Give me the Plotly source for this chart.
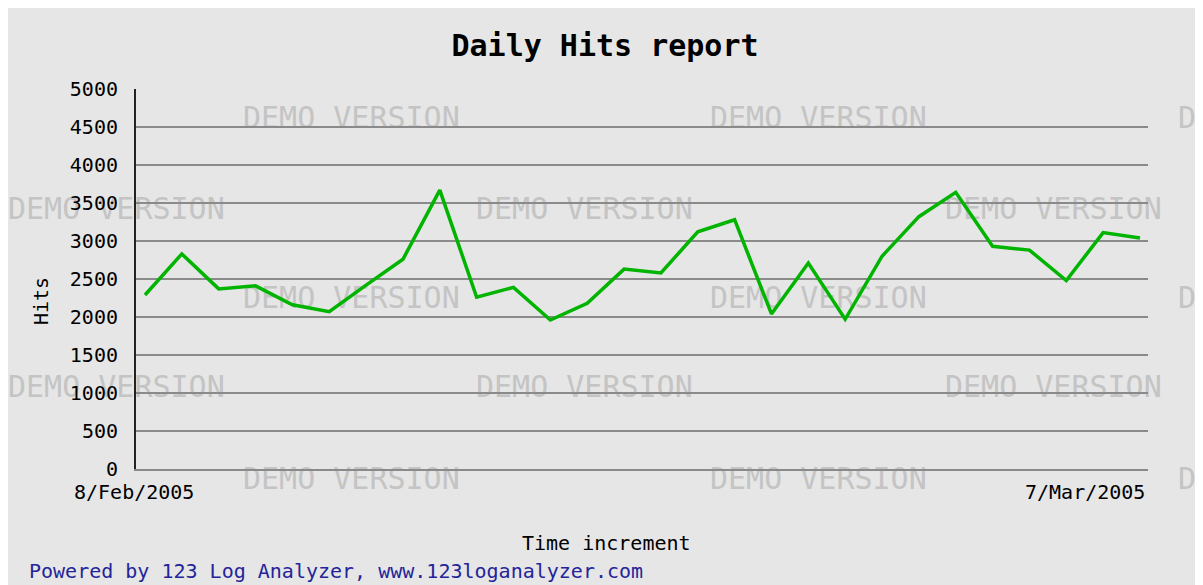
import pandas as pd
import plotly.graph_objects as go

# ---- data ----
dates = pd.date_range("2005-02-08", "2005-03-07", freq="D")
hits = [2290, 2830, 2370, 2410, 2160, 2070, 2420, 2760, 3670, 2260,
        2390, 1960, 2180, 2630, 2580, 3120, 3280, 2040, 2710, 1970,
        2800, 3320, 3640, 2930, 2880, 2480, 3110, 3040]
y_ticks = [0, 500, 1000, 1500, 2000, 2500, 3000, 3500, 4000, 4500, 5000]
x_tick_labels = [f"{d.day}/{d.strftime('%b')}/{d.year}" for d in (dates[0], dates[-1])]

title_text = "Daily Hits report"
y_title = "Hits"
x_title = "Time increment"
footer = "Powered by 123 Log Analyzer, www.123loganalyzer.com"
watermark = "DEMO VERSION"

# ---- layout geometry (page pixels; page body has an 8px margin) ----
OFF = 8
W, H = 1203, 585
L, R, T, B = 136, 1148, 89, 469
x_idx = list(range(len(hits)))
xr = [-0.244, len(hits) - 1 + 0.217]
yr = [0, 5000]

def paper_x(px):
    return (px - OFF) / W

def paper_y(py):
    return 1 - (py - OFF) / H

# watermark grid (page pixel left edges / row centres) on a full-figure background axis
wm_rows = [120, 211, 300, 389, 481]
wm_cols_a = [243, 710, 1178]
wm_cols_b = [8, 476, 945]
wm_x, wm_y = [], []
for i, ry in enumerate(wm_rows):
    for cx in (wm_cols_a if i % 2 == 0 else wm_cols_b):
        wm_x.append(cx - OFF)
        wm_y.append(ry - OFF)

MONO = "DejaVu Sans Mono"
fig = go.Figure()
fig.add_trace(go.Scatter(
    x=wm_x, y=wm_y, xaxis="x", yaxis="y", mode="text",
    text=[watermark] * len(wm_x), textposition="middle right",
    cliponaxis=False, hoverinfo="skip",
    textfont=dict(family=MONO, size=30, color="#c4c4c4"), showlegend=False))
fig.add_trace(go.Scatter(
    x=x_idx, y=hits, xaxis="x2", yaxis="y2", mode="lines",
    line=dict(color="#00b400", width=3.5), showlegend=False))

annotations = [
    dict(text=y_title, x=paper_x(41), y=paper_y(301), textangle=-90,
         font=dict(size=20)),
    dict(text=x_title, x=paper_x(606), y=paper_y(543), font=dict(size=20)),
    dict(text=footer, x=paper_x(27), y=paper_y(571), xanchor="left",
         font=dict(size=20, color="#24249a")),
    dict(text=x_tick_labels[0], x=paper_x(134), y=paper_y(492), font=dict(size=20)),
    dict(text=x_tick_labels[1], x=paper_x(1147), y=paper_y(492), xanchor="right",
         font=dict(size=20)),
]
for a in annotations:
    a.setdefault("xanchor", "center")
    a.update(xref="paper", yref="paper", yanchor="middle", showarrow=False)
    a["font"].setdefault("color", "#000000")
    a["font"]["family"] = MONO

fig.update_layout(
    width=W, height=H,
    margin=dict(l=0, r=0, t=0, b=0, pad=0, autoexpand=False),
    paper_bgcolor="#e6e6e6", plot_bgcolor="rgba(0,0,0,0)",
    title=dict(text=title_text, x=(605 - OFF) / W, xanchor="center",
               y=1 - (45 - OFF) / H, yanchor="middle",
               font=dict(family=MONO, size=30, color="#000000", weight="bold")),
    xaxis=dict(domain=[0, 1], range=[0, W], visible=False, fixedrange=True,
               automargin=False),
    yaxis=dict(domain=[0, 1], range=[H, 0], visible=False, fixedrange=True,
               automargin=False),
    xaxis2=dict(domain=[paper_x(L), paper_x(R)], anchor="y2", range=xr,
                showgrid=False, zeroline=False, showticklabels=False,
                showline=True, linecolor="#8a8a8a", linewidth=2, ticks="",
                automargin=False),
    yaxis2=dict(domain=[paper_y(B), paper_y(T)], anchor="x2", range=yr,
                tickvals=y_ticks, showgrid=True, gridcolor="#8a8a8a",
                gridwidth=2, zeroline=False, showline=True, linecolor="#222222",
                linewidth=2, ticks="outside", ticklen=12,
                tickcolor="rgba(0,0,0,0)", automargin=False,
                tickfont=dict(family=MONO, size=20, color="#000000")),
    annotations=annotations,
    showlegend=False,
)

fig.write_html("out.html")
